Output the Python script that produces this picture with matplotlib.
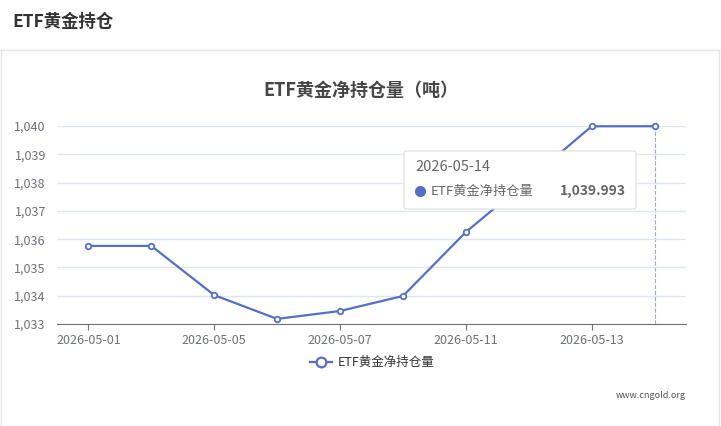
import matplotlib
matplotlib.use("Agg")
import matplotlib.pyplot as plt
from matplotlib.patches import FancyBboxPatch, Rectangle
from matplotlib.lines import Line2D

plt.rcParams['font.family'] = ['Noto Sans CJK SC', 'DejaVu Sans']

dates = ["2026-05-01","2026-05-04","2026-05-05","2026-05-06","2026-05-07",
         "2026-05-08","2026-05-11","2026-05-12","2026-05-13","2026-05-14"]
values = [1035.76,1035.76,1034.02,1033.18,1033.46,1033.99,1036.25,1038.10,1039.99,1039.993]
yticks = [1033,1034,1035,1036,1037,1038,1039,1040]

W,H = 721,426
fig = plt.figure(figsize=(W/100,H/100), dpi=100)
fig.patch.set_facecolor('white')
# header
fig.text(12/W, 1-22/H, "ETF黄金持仓", fontsize=12.5, fontweight='bold', color='#333333', va='center')
fig.add_artist(Line2D([0,1],[1-50/H,1-50/H], color='#e5e5e5', lw=1))
fig.add_artist(Line2D([1/W,1/W],[0,1-50/H], color='#e5e5e5', lw=1))
fig.add_artist(Line2D([1-2/W,1-2/W],[0,1-50/H], color='#e5e5e5', lw=1))

ax = fig.add_axes([57/W, 1-324/H, (686-57)/W, (324-126)/H])
x = list(range(len(dates)))
ax.plot(x, values, color='#5470c6', lw=1.6, marker='o', ms=4, mfc='white', mec='#5470c6', mew=1.3, zorder=3, clip_on=False)
ax.set_xlim(-0.5, len(dates)-0.5)
ax.set_ylim(1033, 1040)
ax.set_yticks(yticks)
ax.set_yticklabels([f"{v:,}" for v in yticks], fontsize=9, color='#6e7079')
ax.set_xticks(x[::2])
ax.set_xticklabels(dates[::2], fontsize=9, color='#6e7079')
ax.tick_params(axis='y', length=0, pad=8)
ax.tick_params(axis='x', length=4, color='#6e7079')
ax.grid(axis='y', color='#e0e6f1', lw=1)
for s in ['top','right','left']:
    ax.spines[s].set_visible(False)
ax.spines['bottom'].set_color('#6e7079')
ax.axvline(9, color='#a0a8c0', lw=0.8, ls='--', zorder=1)

fig.text(0.5, 1-90/H, "ETF黄金净持仓量（吨）", fontsize=13, fontweight='bold', color='#464646', ha='center', va='center')

# legend
ly = 1-362/H
fig.add_artist(Line2D([310/W,332/W],[ly,ly], color='#5470c6', lw=1.6))
fig.add_artist(Line2D([321/W],[ly], marker='o', ms=7, mfc='white', mec='#5470c6', mew=1.6))
fig.text(338/W, ly, "ETF黄金净持仓量", fontsize=9, color='#333333', va='center')
fig.text(686/W, 1-395/H, "www.cngold.org", fontsize=6.5, color='#555555', ha='right', va='center')

# tooltip
tb = FancyBboxPatch((404/W, 1-209/H), (636-404)/W, (209-151)/H, boxstyle="round,pad=0,rounding_size=0.005",
                    transform=fig.transFigure, fc='white', ec='#dddddd', lw=0.8, zorder=10)
fig.add_artist(tb)
fig.text(415/W, 1-167/H, "2026-05-14", fontsize=10.5, color='#666666', va='center', zorder=11)
fig.add_artist(Line2D([420/W],[1-191/H], marker='o', ms=7, color='#5470c6', lw=0, zorder=11))
fig.text(431/W, 1-191/H, "ETF黄金净持仓量", fontsize=9.5, color='#666666', va='center', zorder=11)
fig.text(626/W, 1-191/H, "1,039.993", fontsize=10, fontweight='bold', color='#666666', ha='right', va='center', zorder=11)

fig.savefig("out.png", dpi=100)
